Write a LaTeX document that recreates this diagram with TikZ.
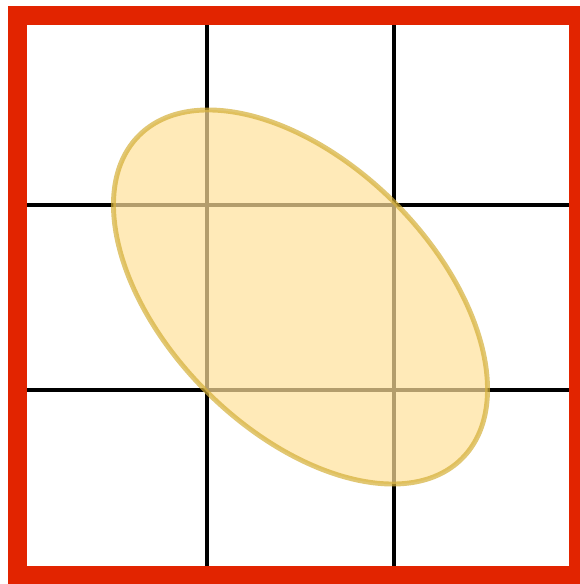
\documentclass[tikz,border=0pt]{standalone}
\usepackage{tikz}
\definecolor{framered}{RGB}{226,36,0}
\definecolor{blobfill}{RGB}{255,225,154}
\definecolor{blobline}{RGB}{212,175,55}
\tikzset{
  gridline/.style={draw=black, line width=2.3pt},
  frame/.style={draw=framered, line width=10.8pt},
  blob/.style={fill=blobfill, draw=blobline, opacity=0.7, line width=2.8pt}
}

\begin{document}
\begin{tikzpicture}[x=0.02cm, y=0.02cm]
  \clip (0,0) rectangle (580,584);
  \coordinate (sw) at (17.5,8.5);
  \coordinate (ne) at (578.5,568.5);
  \coordinate (mid) at (300.5,287);

  % grid
  \foreach \gx in {207,394}
    \draw[gridline] (\gx,8.5) -- (\gx,568.5);
  \foreach \gy in {379,194}
    \draw[gridline] (17.5,\gy) -- (578.5,\gy);

  % tilted ellipse
  \draw[blob, rotate around={-45:(mid)}] (mid) ellipse [x radius=228.4, y radius=133.3];

  % outer frame
  \draw[frame] (sw) rectangle (ne);
\end{tikzpicture}
\end{document}
